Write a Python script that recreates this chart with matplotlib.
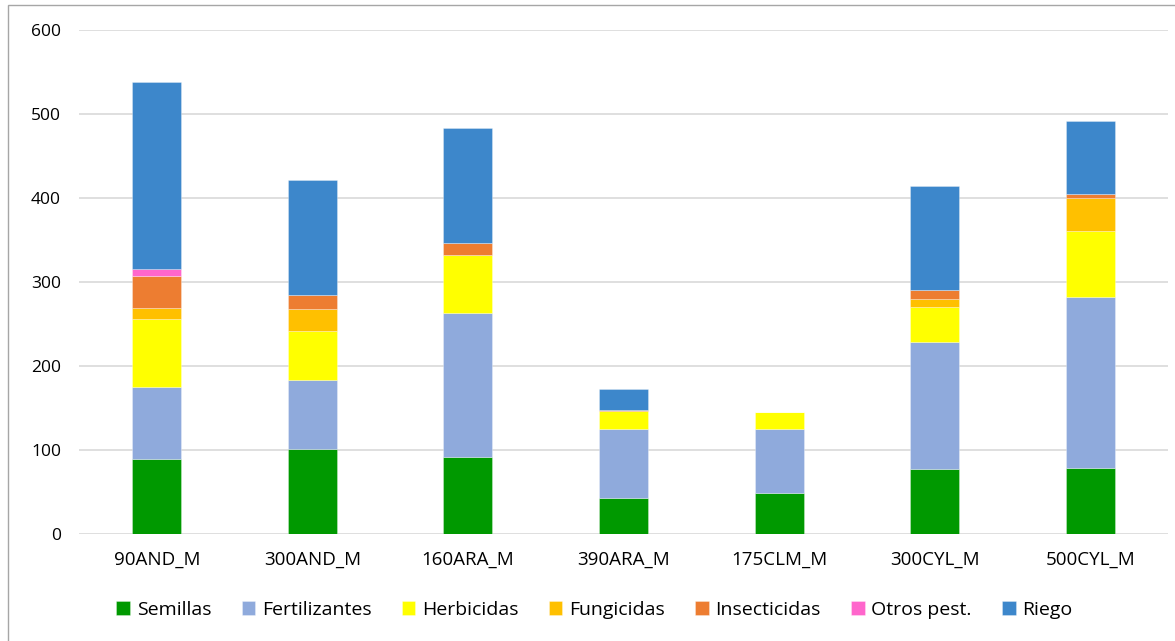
import matplotlib
matplotlib.use("Agg")
import matplotlib.pyplot as plt
import numpy as np
from matplotlib.patches import Rectangle

categories = ["90AND_M", "300AND_M", "160ARA_M", "390ARA_M", "175CLM_M", "300CYL_M", "500CYL_M"]
semillas = [89, 101, 92, 43, 49, 77, 79]
fertilizantes = [86, 82, 171, 82, 76, 151, 203]
herbicidas = [81, 59, 69, 21, 20, 42, 79]
fungicidas = [13, 26, 0, 0, 0, 10, 39]
insecticidas = [38, 16, 14, 2, 0, 10, 5]
otros = [9, 0, 0, 0, 0, 0, 0]
riego = [222, 138, 137, 25, 0, 124, 87]

series_names = ["Semillas", "Fertilizantes", "Herbicidas", "Fungicidas", "Insecticidas", "Otros pest.", "Riego"]
series_vals = [semillas, fertilizantes, herbicidas, fungicidas, insecticidas, otros, riego]
colors = ["#009900", "#8FAADC", "#FFFF00", "#FFC000", "#ED7D31", "#FF66CC", "#3D87CB"]

plt.rcParams['font.family'] = ['Open Sans', 'DejaVu Sans']

fig = plt.figure(figsize=(11.75, 6.41), dpi=100)
ax = fig.add_axes([79/1175, 1 - 534/641, (1168 - 79)/1175, (534 - 30)/641])

x = np.arange(len(categories))
bottom = np.zeros(len(categories))
handles = []
for name, vals, c in zip(series_names, series_vals, colors):
    v = np.array(vals, dtype=float)
    b = ax.bar(x, v, width=0.315, bottom=bottom, color=c, edgecolor=(1, 1, 1, 0.35),
               linewidth=0.6, label=name, zorder=3)
    handles.append(b)
    bottom += v

ax.set_xlim(-0.5, len(categories) - 0.5)
ax.set_ylim(0, 600)
ax.set_yticks(range(0, 601, 100))
ax.set_xticks(x)
ax.set_xticklabels(categories)
ax.tick_params(axis='both', length=0, colors='#000000')
ax.tick_params(axis='y', pad=13, labelsize=12.5)
ax.tick_params(axis='x', pad=12, labelsize=13.5)
ax.grid(axis='y', color='#D9D9D9', linewidth=1.2, zorder=0)
for s in ax.spines.values():
    s.set_visible(False)

leg = fig.legend(handles=handles, labels=series_names, loc='center', bbox_to_anchor=(0.506, 1 - 610/641),
                 ncol=7, frameon=False, fontsize=14, handlelength=0.7, handleheight=0.7,
                 handletextpad=0.35, columnspacing=1.55)

fig.patches.append(Rectangle((8/1175, -0.1), 1.2, 1 - 5/641 + 0.1, transform=fig.transFigure,
                             fill=False, edgecolor='#A6A6A6', linewidth=1.0))

fig.savefig("out.png", dpi=100)
